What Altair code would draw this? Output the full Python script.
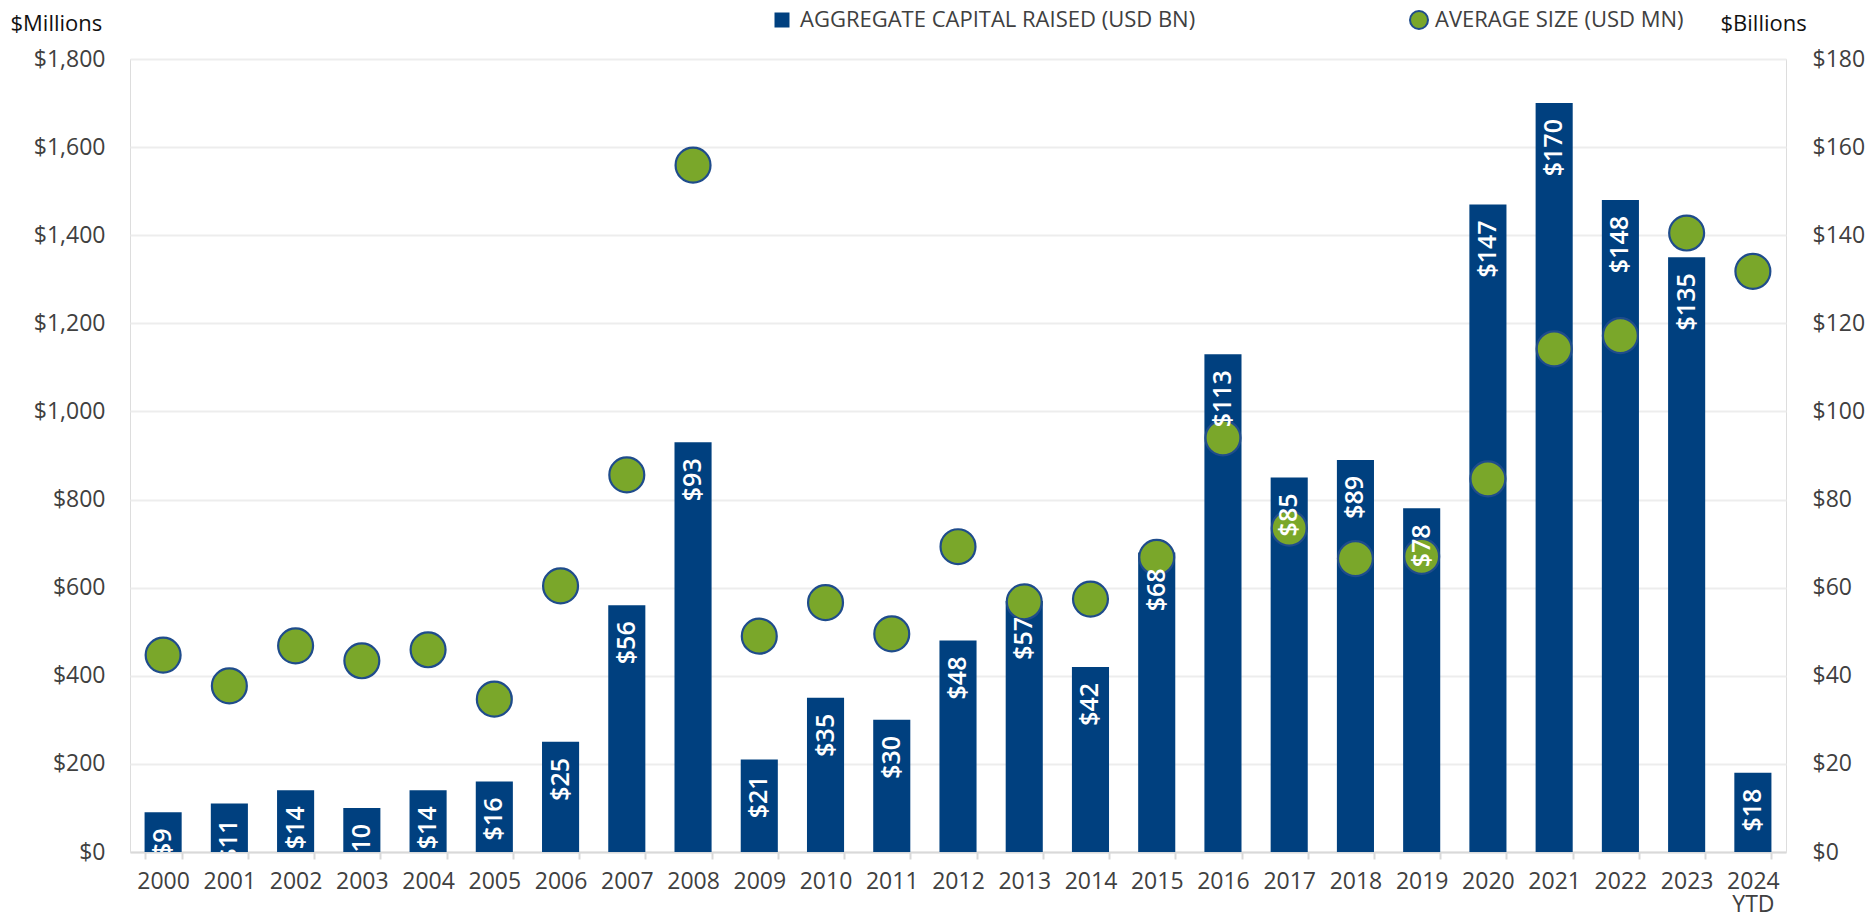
import altair as alt
import pandas as pd

years = ["2000", "2001", "2002", "2003", "2004", "2005", "2006", "2007", "2008", "2009",
         "2010", "2011", "2012", "2013", "2014", "2015", "2016", "2017", "2018", "2019",
         "2020", "2021", "2022", "2023", "2024 YTD"]
capital_bn = [9, 11, 14, 10, 14, 16, 25, 56, 93, 21, 35, 30, 48, 57, 42, 68, 113, 85, 89, 78,
              147, 170, 148, 135, 18]
avg_size_mn = [447, 377, 468, 434, 459, 347, 604, 856, 1559, 490, 566, 495, 693, 568, 574, 669,
               940, 735, 666, 671, 847, 1142, 1172, 1405, 1318]
left_ticks = [0, 200, 400, 600, 800, 1000, 1200, 1400, 1600, 1800]
right_ticks = [0, 20, 40, 60, 80, 100, 120, 140, 160, 180]
bar_series = "AGGREGATE CAPITAL RAISED (USD BN)"
dot_series = "AVERAGE SIZE (USD MN)"

df = pd.DataFrame({
    "year": years,
    "capital": capital_bn,
    "avg": avg_size_mn,
    "bar_series": bar_series,
    "dot_series": dot_series,
})

FONT = "Open Sans"
GRAY = "#404040"
BAR = "#00407F"
GREEN = "#7AA72A"
DOT_STROKE = "#1F4C8C"

xenc = alt.X(
    "year:N", sort=years,
    scale=alt.Scale(paddingInner=0.44, paddingOuter=0.22),
    axis=alt.Axis(
        title=None, labelAngle=0, labelFont=FONT, labelFontSize=23, labelColor=GRAY,
        labelPadding=11, tickBand="extent", tickSize=7, tickColor="#D9D9D9", tickWidth=2,
        domainColor="#D9D9D9", domainWidth=2, grid=False,
        labelExpr="datum.value == '2024 YTD' ? ['2024', 'YTD'] : datum.value",
        labelLineHeight=23,
    ),
)

bars = alt.Chart(df).mark_bar(color=BAR).encode(
    x=xenc,
    y=alt.Y(
        "capital:Q",
        scale=alt.Scale(domain=[0, 180], nice=False, zero=True),
        axis=alt.Axis(
            orient="right", values=right_ticks, format="$.0f",
            title="$Billions", titleAngle=0, titleX=-66, titleY=-36,
            titleAlign="left", titleBaseline="middle", titleFont=FONT, titleFontSize=22,
            titleFontWeight="normal", titleColor="#111111",
            labelFont=FONT, labelFontSize=23, labelColor=GRAY, labelPadding=26,
            ticks=False, domain=False, grid=False,
        ),
    ),
    color=alt.Color(
        "bar_series:N",
        scale=alt.Scale(domain=[bar_series], range=[BAR]),
        legend=alt.Legend(
            orient="none", legendX=641, legendY=-50, title=None, symbolType="square",
            symbolSize=225, symbolStrokeWidth=0, labelFont=FONT, labelFontSize=22,
            labelColor=GRAY, labelOffset=7, padding=0, labelLimit=0,
        ),
    ),
)

dots = alt.Chart(df).mark_circle(size=1220, stroke=DOT_STROKE, strokeWidth=2.2, opacity=1).encode(
    x=xenc,
    y=alt.Y(
        "avg:Q",
        scale=alt.Scale(domain=[0, 1800], nice=False, zero=True),
        axis=alt.Axis(
            orient="left", values=left_ticks, format="$,.0f",
            title="$Millions", titleAngle=0, titleX=-120, titleY=-36,
            titleAlign="left", titleBaseline="middle", titleFont=FONT, titleFontSize=22,
            titleFontWeight="normal", titleColor="#111111",
            labelFont=FONT, labelFontSize=23, labelColor=GRAY, labelPadding=25,
            ticks=False, domain=False, grid=True, gridColor="#EDEDED", gridWidth=2,
        ),
    ),
    fill=alt.Fill(
        "dot_series:N",
        scale=alt.Scale(domain=[dot_series], range=[GREEN]),
        legend=alt.Legend(
            orient="none", legendX=1278, legendY=-50, title=None, symbolType="circle",
            symbolSize=324, symbolStrokeColor=DOT_STROKE, symbolStrokeWidth=2,
            labelFont=FONT, labelFontSize=22, labelColor=GRAY, labelOffset=5,
            padding=0, labelLimit=0,
        ),
    ),
)

labels = alt.Chart(df).mark_text(
    angle=270, align="right", baseline="middle", dx=-16, color="white",
    font=FONT, fontSize=25, fontWeight=600, clip=True,
).encode(
    x=xenc,
    y=alt.Y("capital:Q", scale=alt.Scale(domain=[0, 180], nice=False, zero=True), axis=None),
    text=alt.Text("capital:Q", format="$.0f"),
)

chart = alt.layer(bars, dots, labels).resolve_scale(
    y="independent", color="independent", fill="independent"
).properties(
    width=1656, height=793,
    autosize=alt.AutoSizeParams(type="none"),
    padding={"left": 122, "top": 51, "right": 80, "bottom": 60},
).configure_view(stroke=None).configure(background="white")

chart.save("out.html", embed_options={"renderer": "svg", "actions": False})
